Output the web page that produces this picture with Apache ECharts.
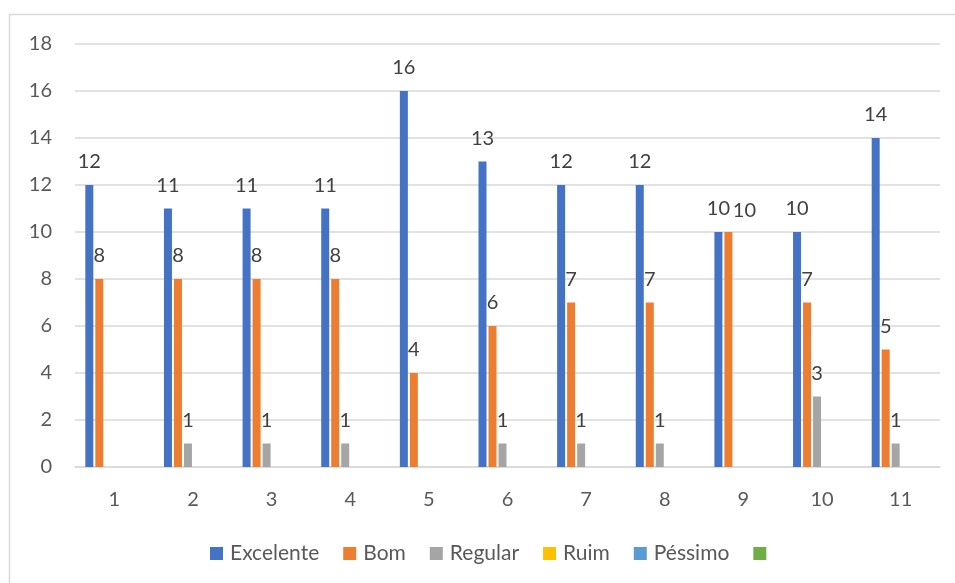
<!DOCTYPE html>
<html>
<head>
<meta charset="utf-8">
<script src="https://cdn.jsdelivr.net/npm/echarts@6/dist/echarts.min.js"></script>
<style>
html,body{margin:0;padding:0;background:#fff;}
#chart{width:955px;height:583px;}
</style>
</head>
<body>
<div id="chart"></div>
<script>
var categories = ['1','2','3','4','5','6','7','8','9','10','11'];
var seriesNames = ['Excelente','Bom','Regular','Ruim','Péssimo',' '];
var excelente = [12,11,11,11,16,13,12,12,10,10,14];
var bom = [8,8,8,8,4,6,7,7,10,7,5];
var regular = [null,1,1,1,null,1,1,1,null,3,1];
var ruim = [];
var pessimo = [];
var extra = [];
var colors = ['#4472C4','#ED7D31','#A5A5A5','#FFC000','#5B9BD5','#70AD47'];

var FONT = 'Lato';
var bomData = bom.map(function(v,i){
  return v === excelente[i] ? {value:v, label:{offset:[16,2]}} : v;
});
var allData = [excelente, bomData, regular, ruim, pessimo, extra];

var chart = echarts.init(document.getElementById('chart'));
var series = seriesNames.map(function(n,i){
  return {
    name: n,
    type: 'bar',
    data: allData[i],
    barWidth: 8,
    barGap: '25%',
    itemStyle: {color: colors[i]},
    label: {
      show: true,
      position: 'top',
      distance: 13,
      fontFamily: FONT,
      fontSize: 20,
      color: '#404040'
    }
  };
});
chart.setOption({
  animation: false,
  color: colors,
  graphic: [{
    type: 'rect',
    shape: {x: 9.5, y: 14.5, width: 1000, height: 1000},
    style: {fill: 'none', stroke: '#d9d9d9', lineWidth: 1.5},
    silent: true
  }],
  grid: {left: 75, right: 15, top: 44, bottom: 116},
  legend: {
    bottom: 14,
    left: 205,
    icon: 'rect',
    itemWidth: 13,
    itemHeight: 13,
    itemGap: 24,
    data: seriesNames,
    textStyle: {fontFamily: FONT, fontSize: 21, color: '#595959', padding: [0, 0, 0, 2]}
  },
  xAxis: {
    type: 'category',
    data: categories,
    axisLine: {lineStyle: {color: '#d9d9d9', width: 1.5}},
    axisTick: {show: false},
    axisLabel: {fontFamily: FONT, fontSize: 20, color: '#595959', margin: 23}
  },
  yAxis: {
    type: 'value',
    min: 0,
    max: 18,
    interval: 2,
    axisLine: {show: false},
    axisTick: {show: false},
    splitLine: {lineStyle: {color: '#d9d9d9', width: 1.5}},
    axisLabel: {fontFamily: FONT, fontSize: 20, color: '#595959', margin: 23}
  },
  series: series
});
</script>
</body>
</html>
